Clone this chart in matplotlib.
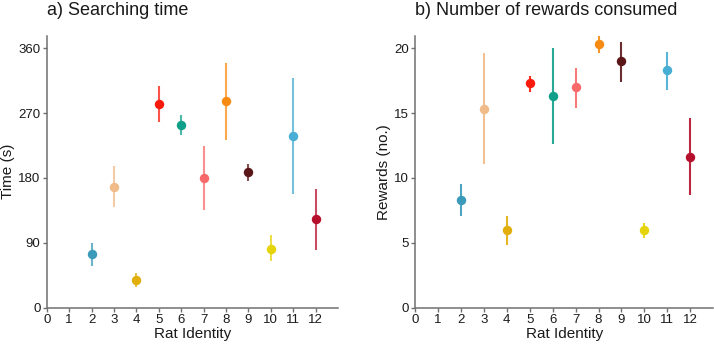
import matplotlib
matplotlib.use("Agg")
import matplotlib.pyplot as plt

plt.rcParams['font.family'] = ['Liberation Sans', 'DejaVu Sans']

rats = [2, 3, 4, 5, 6, 7, 8, 9, 10, 11, 12]
colors = ['#3b9ab9', '#f0bb88', '#e2ae0a', '#fa1a0c', '#10a08a', '#f86a6a',
          '#f78b12', '#5b1618', '#e6d40a', '#48aed4', '#b50f2c']

time_mean = [74, 168, 38, 283, 253, 180, 287, 188, 82, 238, 123]
time_low = [58, 139, 29, 257, 239, 135, 233, 176, 64, 158, 80]
time_high = [90, 196, 48, 308, 267, 224, 340, 199, 101, 319, 165]

rew_mean = [8.3, 15.3, 6.0, 17.3, 16.3, 17.0, 20.3, 19.0, 6.0, 18.3, 11.6]
rew_low = [7.1, 11.1, 4.8, 16.6, 12.6, 15.4, 19.6, 17.4, 5.4, 16.8, 8.7]
rew_high = [9.55, 19.6, 7.1, 17.9, 20.05, 18.5, 21.0, 20.5, 6.55, 19.75, 14.6]

fig = plt.figure(figsize=(7.14, 3.46), dpi=100)
ax1 = fig.add_axes([0.0654, 0.111, 0.408, 0.785])
ax2 = fig.add_axes([0.5812, 0.111, 0.4178, 0.785])

def draw(ax, mean, low, high, ylim, yticks, ylabel, title, bar_alpha):
    for x, m, lo, hi, c in zip(rats, mean, low, high, colors):
        ax.plot([x, x], [lo, hi], color=c, lw=1.5, alpha=bar_alpha,
                solid_capstyle='butt', zorder=2)
        ax.plot([x], [m], 'o', color=c, ms=6.8, mec='none', zorder=3)
    ax.set_xlim(0, 13)
    ax.set_ylim(*ylim)
    ax.set_xticks(range(0, 13))
    ax.set_yticks(yticks)
    for s in ['top', 'right']:
        ax.spines[s].set_visible(False)
    for s in ['left', 'bottom']:
        ax.spines[s].set_color('#707070')
        ax.spines[s].set_linewidth(1.1)
    ax.tick_params(axis='both', length=3, width=1.0, color='#707070',
                   labelsize=9.5, labelcolor='#1a1a1a', pad=1.5)
    ax.set_xlabel('Rat Identity', fontsize=11, color='#1a1a1a', labelpad=0.5)
    ax.set_ylabel(ylabel, fontsize=11, color='#1a1a1a', labelpad=2)
    ax.set_title(title, fontsize=13, loc='left', x=0.0, y=1.045,
                 color='#1a1a1a')

draw(ax1, time_mean, time_low, time_high, (0, 377), [0, 90, 180, 270, 360],
     'Time (s)', 'a) Searching time', 0.75)
draw(ax2, rew_mean, rew_low, rew_high, (0, 20.95), [0, 5, 10, 15, 20],
     'Rewards (no.)', 'b) Number of rewards consumed', 0.9)

fig.savefig('out.png', dpi=100)
